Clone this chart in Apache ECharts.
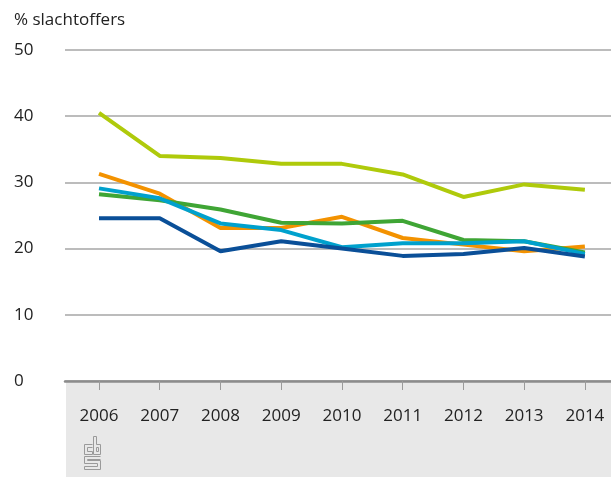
<!DOCTYPE html>
<html>
<head>
<meta charset="utf-8">
<script src="https://cdn.jsdelivr.net/npm/echarts@6/dist/echarts.min.js"></script>
<style>
  html, body { margin: 0; padding: 0; background: #fff; }
  #chart { width: 611px; height: 477px; }
</style>
</head>
<body>
<div id="chart"></div>
<script>
const years = [2006, 2007, 2008, 2009, 2010, 2011, 2012, 2013, 2014];
const yTicks = [0, 10, 20, 30, 40, 50];

// vijf reeksen
const lime = [40.5, 34.0, 33.7, 32.8, 32.8, 31.2, 27.8, 29.7, 28.9];
const orange = [31.3, 28.3, 23.1, 23.1, 24.8, 21.6, 20.6, 19.6, 20.3];
const green = [28.2, 27.3, 25.9, 23.9, 23.8, 24.2, 21.3, 21.1, 19.4];
const cyan = [29.1, 27.6, 23.8, 22.8, 20.2, 20.8, 20.8, 21.1, 19.2];
const navy = [24.6, 24.6, 19.6, 21.1, 20.0, 18.9, 19.2, 20.1, 18.8];

const font = 'Open Sans';
const chart = echarts.init(document.getElementById('chart'));

const mkLine = (data, color) => ({
  type: 'line',
  data: data.map((v, i) => [years[i], v]),
  symbol: 'none',
  lineStyle: { color: color, width: 4 },
  itemStyle: { color: color }
});

chart.setOption({
  animation: false,
  grid: { left: 65, right: 0, top: 50, bottom: 96 },
  graphic: [
    { type: 'rect', z: -10, shape: { x: 66, y: 381, width: 545, height: 96 }, style: { fill: '#e8e8e8' } },
    { type: 'text', left: 14, top: 12, style: { text: '% slachtoffers', font: '17px "Open Sans"', fill: '#222' } },
    // cbs logo
    { type: 'group', left: 82, top: 434, children: [
      { type: 'polyline', shape: { points: [[8, 8], [0, 8], [0, 18], [8, 18], [8, 15], [3, 15], [3, 11], [8, 11]] }, style: { stroke: '#9a9a9a', fill: null, lineWidth: 1 } },
      { type: 'polyline', shape: { points: [[9, 0], [12, 0], [12, 8], [16, 8], [16, 18], [9, 18], [9, 0]] }, style: { stroke: '#9a9a9a', fill: null, lineWidth: 1 } },
      { type: 'rect', shape: { x: 12, y: 11, width: 2, height: 4 }, style: { stroke: '#9a9a9a', fill: null, lineWidth: 1 } },
      { type: 'polyline', shape: { points: [[16, 20], [0, 20], [0, 27], [13, 27], [13, 30], [0, 30], [0, 33], [16, 33], [16, 24], [3, 24], [3, 23], [16, 23]] }, style: { stroke: '#9a9a9a', fill: null, lineWidth: 1 } }
    ]}
  ],
  xAxis: {
    type: 'value',
    min: 2005.44,
    max: 2014.43,
    splitLine: { show: false },
    axisLine: { lineStyle: { color: '#8c8c8c', width: 2.5 } },
    axisTick: { show: true, customValues: years, length: 9, lineStyle: { color: '#9a9a9a', width: 1 } },
    axisLabel: {
      customValues: years,
      formatter: v => String(Math.round(v)),
      margin: 27,
      color: '#222',
      fontFamily: font,
      fontSize: 17
    }
  },
  yAxis: {
    type: 'value',
    min: 0,
    max: 50,
    interval: 10,
    axisLine: { show: false },
    axisTick: { show: false },
    splitLine: { lineStyle: { color: '#a6a6a6', width: 1.5 } },
    axisLabel: {
      customValues: yTicks,
      align: 'left',
      margin: 51,
      color: '#222',
      fontFamily: font,
      fontSize: 17
    }
  },
  series: [
    mkLine(lime, '#afca0b'),
    mkLine(orange, '#f39200'),
    mkLine(green, '#3fa535'),
    mkLine(cyan, '#00a1cd'),
    mkLine(navy, '#0a4f98')
  ]
});
</script>
</body>
</html>
